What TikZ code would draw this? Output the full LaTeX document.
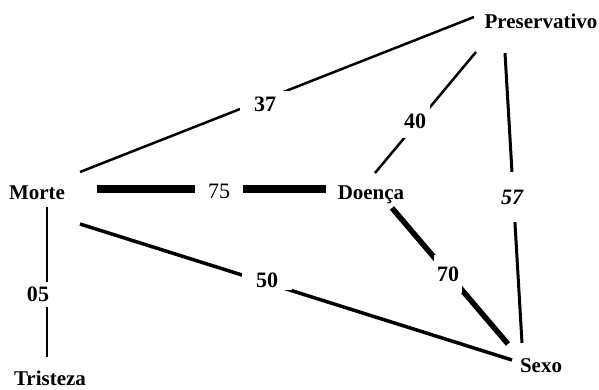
\documentclass[tikz,border=0pt]{standalone}
\usepackage{fontspec}
\setmainfont{Liberation Serif}
\begin{document}
\begin{tikzpicture}[x=1pt,y=-1pt,
  word/.style={inner sep=0pt,font=\fontsize{21}{22}\selectfont\bfseries},
  num/.style={inner sep=0pt,fill=white,font=\fontsize{22}{23}\selectfont\bfseries},
  edge/.style={draw=black,line cap=butt}]
\useasboundingbox[fill=white] (0,0) rectangle (599,390);
% terms
\node[word] (mo) at (37,193) {Morte};
\node[word] (pr) at (541,21) {Preservativo};
\node[word] (do) at (371,195) {Doença};
\node[word] (se) at (541,366) {Sexo};
\node[word] (tr) at (50,378) {Tristeza};
% connector ends
\coordinate (mo-pr) at (80,172);
\coordinate (pr-mo) at (474,17);
\coordinate (mo-do) at (97,189);
\coordinate (do-mo) at (326,189);
\coordinate (mo-se) at (80,224);
\coordinate (se-mo) at (512,360);
\coordinate (mo-tr) at (47,207);
\coordinate (tr-mo) at (47,357);
\coordinate (do-pr) at (375,173);
\coordinate (pr-do) at (476,52);
\coordinate (pr-se) at (505,53);
\coordinate (se-pr) at (522,343);
\coordinate (do-se) at (392,208);
\coordinate (se-do) at (508,344);
% connectors
\draw[edge,line width=2.5pt] (mo-pr) -- (pr-mo);
\draw[edge,line width=8pt] (mo-do) -- (do-mo);
\draw[edge,line width=3.5pt] (mo-se) -- (se-mo);
\draw[edge,line width=2pt] (mo-tr) -- (tr-mo);
\draw[edge,line width=2.5pt] (do-pr) -- (pr-do);
\draw[edge,line width=3pt] (pr-se) -- (se-pr);
\draw[edge,line width=5.5pt] (do-se) -- (se-do);
% weights
\node[num,minimum width=50pt,minimum height=26pt] (w37) at (265,104) {37};
\node[num,minimum width=48pt,minimum height=20pt] (w75) at (219,191) {\mdseries 75};
\node[num,minimum width=50pt,minimum height=20pt] (w50) at (267,280) {50};
\node[num,minimum width=24pt,minimum height=25pt] (w05) at (38,294) {05};
\node[num,minimum width=30pt,minimum height=34pt] (w40) at (415,121) {40};
\node[num,minimum width=26pt,minimum height=50pt] (w57) at (512,197) {\itshape 57};
\node[num,minimum width=28pt,minimum height=38pt] (w70) at (448,274) {70};
\end{tikzpicture}
\end{document}
